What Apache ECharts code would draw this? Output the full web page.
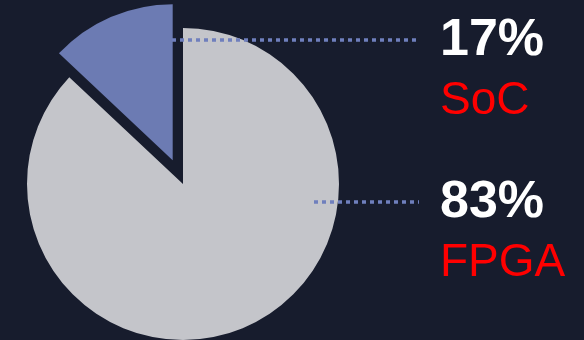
<!DOCTYPE html>
<html>
<head>
<meta charset="utf-8">
<script src="https://cdn.jsdelivr.net/npm/echarts@6/dist/echarts.min.js"></script>
<style>
    html, body { margin: 0; padding: 0; background: #171c2d; }
    #chart { width: 584px; height: 340px; }
</style>
</head>
<body>
<div id="chart"></div>
<script>
    // 分类与数值（扇区按图上角度读取，标签按图上文字）
    var names = ['FPGA', 'SoC'];
    var shares = [87, 13];
    var percentLabels = ['83%', '17%'];
    var sliceColors = ['#c4c5ca', '#6c7bb3'];

    var cx = 183, cy = 184, r = 156;
    // 引线与文字的版面位置
    var lineStart = {FPGA: 314, SoC: 172};
    var lineY = {FPGA: 202, SoC: 40};
    var lineEnd = 419;
    var textX = 440;

    var myChart = echarts.init(document.getElementById('chart'));

    // 底层：实际扇区
    var pieData = names.map(function (name, i) {
        return {
            name: name,
            value: shares[i],
            selected: name === 'SoC',
            itemStyle: {color: sliceColors[i]},
            select: {itemStyle: {color: sliceColors[i]}}
        };
    });

    // 上层：透明扇区，只负责文字和引线
    var labelData = names.map(function (name, i) {
        return {
            name: name,
            value: shares[i],
            percent: percentLabels[i]
        };
    });

    var option = {
        backgroundColor: '#171c2d',
        animation: false,
        series: [
            {
                type: 'pie',
                z: 2,
                center: [cx, cy],
                radius: r,
                startAngle: 90,
                clockwise: true,
                selectedMode: 'single',
                selectedOffset: 26,
                silent: true,
                emphasis: {disabled: true},
                itemStyle: {borderWidth: 0},
                label: {show: false},
                labelLine: {show: false},
                data: pieData
            },
            {
                type: 'pie',
                z: 5,
                center: [cx, cy],
                radius: r,
                startAngle: 90,
                clockwise: true,
                silent: true,
                emphasis: {disabled: true},
                itemStyle: {color: 'rgba(0,0,0,0)', borderWidth: 0},
                data: labelData,
                label: {
                    show: true,
                    position: 'outside',
                    overflow: 'none',
                    formatter: function (p) {
                        return '{p|' + p.data.percent + '}\n{n|' + p.name + '}';
                    },
                    rich: {
                        p: {
                            fontFamily: 'Liberation Sans',
                            fontWeight: 'bold',
                            fontSize: 52,
                            lineHeight: 62,
                            color: '#ffffff'
                        },
                        n: {
                            fontFamily: 'Liberation Sans',
                            fontSize: 46,
                            lineHeight: 58,
                            color: '#ff0000'
                        }
                    }
                },
                labelLine: {
                    show: true,
                    lineStyle: {
                        color: '#6f7fbd',
                        width: 3.5,
                        type: [4, 4],
                        cap: 'butt'
                    }
                },
                labelLayout: function (params) {
                    var name = names[params.dataIndex];
                    var y = lineY[name];
                    return {
                        x: textX,
                        y: y - 30,
                        align: 'left',
                        verticalAlign: 'top',
                        labelLinePoints: [
                            [lineStart[name], y],
                            [(lineStart[name] + lineEnd) / 2, y],
                            [lineEnd, y]
                        ]
                    };
                }
            }
        ]
    };

    myChart.setOption(option);
</script>
</body>
</html>
